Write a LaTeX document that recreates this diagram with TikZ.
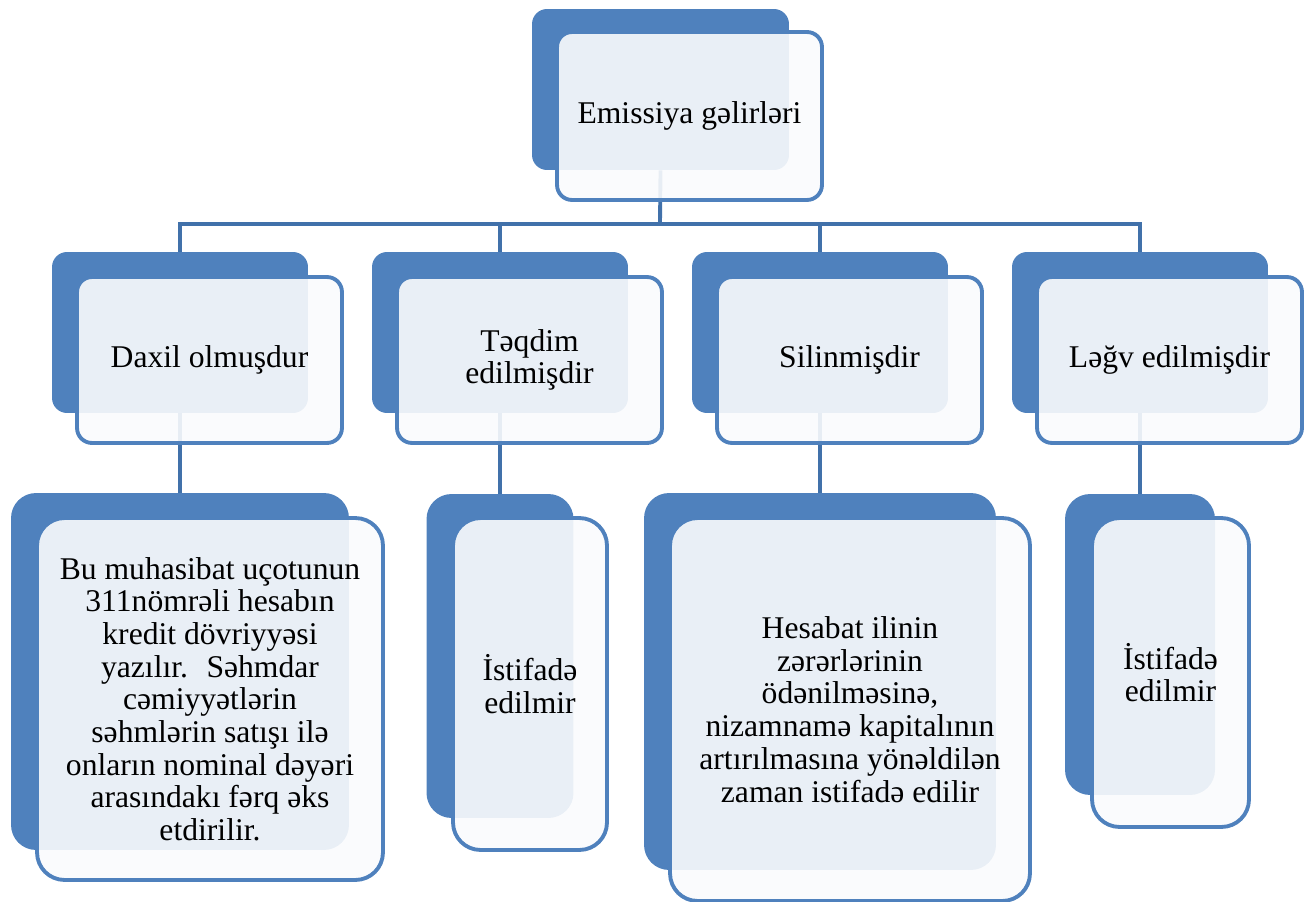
\documentclass[tikz,border=0pt]{standalone}
\usepackage{fontspec}
\setmainfont{Liberation Serif}

\definecolor{boxblue}{RGB}{79,129,189}
\definecolor{linkblue}{RGB}{65,113,170}
\definecolor{paleblue}{RGB}{250,251,253}

\tikzset{
  backbox/.style={rectangle,rounded corners=0.3cm,fill=boxblue,draw=none},
  frontbox/.style={rectangle,rounded corners=0.3cm,draw=boxblue,line width=2.2pt,
    fill=paleblue,fill opacity=0.9,text opacity=1,align=center,inner sep=2pt,
    font=\fontsize{18}{18.6}\selectfont},
  link/.style={draw=linkblue,line width=2.2pt}
}

\begin{document}
\begin{tikzpicture}[x=0.02cm,y=-0.02cm]
        \useasboundingbox (0,0) rectangle (1311,902);

        % back boxes
        \node[backbox,minimum width=5.14cm,minimum height=3.22cm] (top-back) at (660.5,89.5) {};
        \foreach \x/\name in {180/d1,500/d2,820/d3,1140/d4}
            \node[backbox,minimum width=5.12cm,minimum height=3.22cm] (\name-back) at (\x,332.5) {};
        \node[backbox,rounded corners=0.5cm,minimum width=6.76cm,minimum height=7.14cm] (n1-back) at (180,671.5) {};
        \node[backbox,rounded corners=0.5cm,minimum width=2.94cm,minimum height=6.48cm] (n2-back) at (500,656) {};
        \node[backbox,rounded corners=0.5cm,minimum width=7.04cm,minimum height=7.54cm] (n3-back) at (820,681.5) {};
        \node[backbox,rounded corners=0.5cm,minimum width=3.0cm,minimum height=6.02cm] (n4-back) at (1140,644.5) {};

        % connectors
        \coordinate (bar) at (660,224);
        \draw[link] (top-back.south) -- (bar);
        \draw[link] (d1-back.north) |- (bar) -| (d4-back.north);
        \draw[link] (d2-back.north) -- (d2-back.north |- bar);
        \draw[link] (d3-back.north) -- (d3-back.north |- bar);
        \foreach \i in {1,...,4}
            \draw[link] (d\i-back.south) -- (n\i-back.north);

        % front boxes
        \node[frontbox,minimum width=5.3cm,minimum height=3.36cm] (top) at (689.5,116) {Emissiya gəlirləri};
        \node[frontbox,minimum width=5.3cm,minimum height=3.32cm] (d1) at (209.5,360) {Daxil olmuşdur};
        \node[frontbox,minimum width=5.3cm,minimum height=3.32cm] (d2) at (529.5,360) {Təqdim\\edilmişdir};
        \node[frontbox,minimum width=5.3cm,minimum height=3.32cm] (d3) at (849.5,360) {Silinmişdir};
        \node[frontbox,minimum width=5.3cm,minimum height=3.32cm] (d4) at (1169.5,360) {Ləğv edilmişdir};
        \node[frontbox,rounded corners=0.55cm,minimum width=6.92cm,minimum height=7.24cm] (n1) at (210,699)
            {Bu muhasibat uçotunun\\311nömrəli hesabın\\kredit dövriyyəsi\\yazılır.~ Səhmdar\\cəmiyyətlərin\\səhmlərin satışı ilə\\onların nominal dəyəri\\arasındakı fərq əks\\etdirilir.};
        \node[frontbox,rounded corners=0.55cm,minimum width=3.08cm,minimum height=6.64cm] (n2) at (530,684) {İstifadə\\edilmir};
        \node[frontbox,rounded corners=0.55cm,minimum width=7.2cm,minimum height=7.66cm] (n3) at (850,709.5)
            {Hesabat ilinin\\zərərlərinin\\ödənilməsinə,\\nizamnamə kapitalının\\artırılmasına yönəldilən\\zaman istifadə edilir};
        \node[frontbox,rounded corners=0.55cm,minimum width=3.14cm,minimum height=6.18cm] (n4) at (1170.5,672.5) {İstifadə\\edilmir};
    \end{tikzpicture}
\end{document}
